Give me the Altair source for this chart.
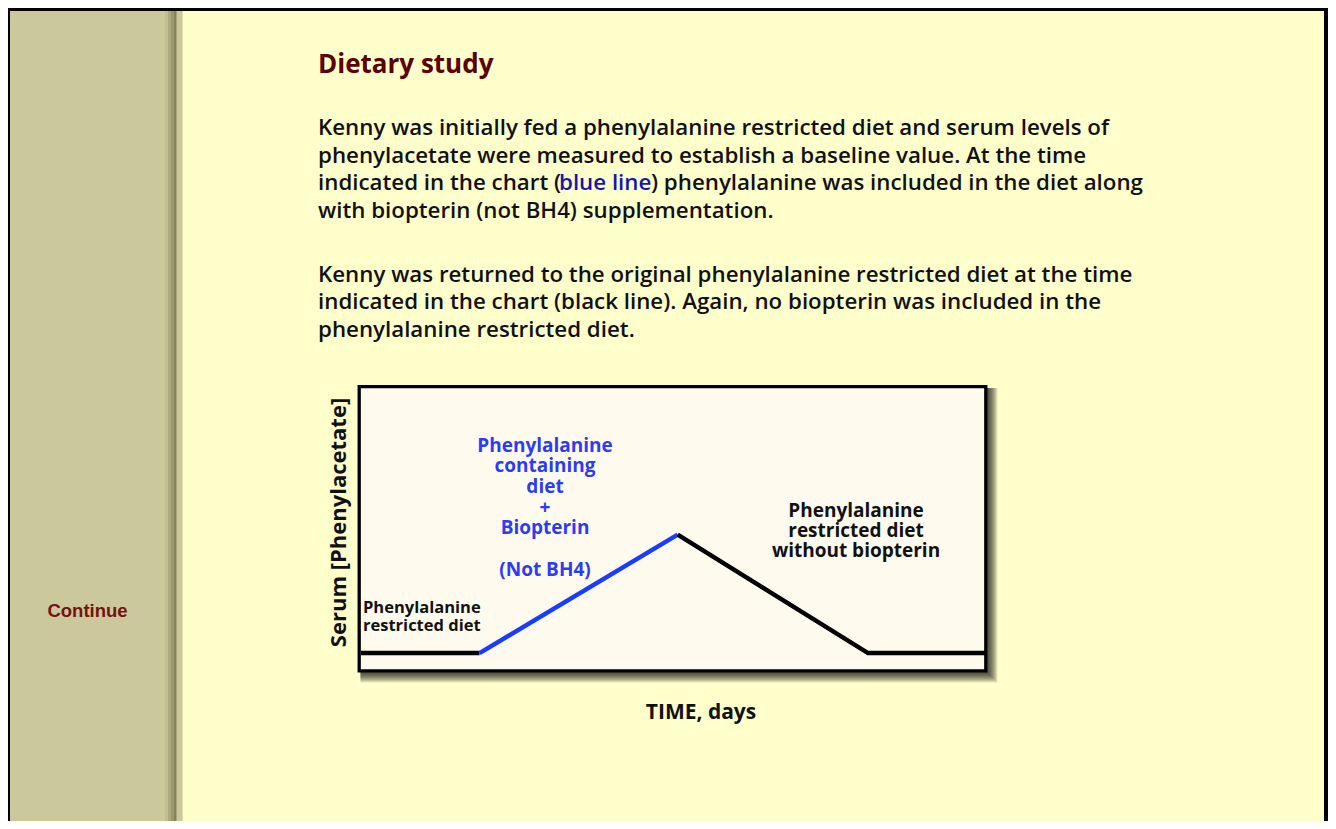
import altair as alt
import pandas as pd

# ---------------- data ----------------
days = [0, 7.6, 20.3, 32.5, 40]            # time, days
serum = [0.6, 0.6, 4.8, 0.6, 0.6]          # serum [phenylacetate], arbitrary units
segment_names = ["baseline", "baseline", "phe_diet", "phe_diet",
                 "restricted", "restricted", "restricted"]
segment_points = [0, 1, 1, 2, 2, 3, 4]
segment_colors = {"baseline": "#000000", "phe_diet": "#1a3cff", "restricted": "#000000"}

title_text = "Dietary study"
para1_top = [
    "Kenny was initially fed a phenylalanine restricted diet and serum levels of",
    "phenylacetate were measured to establish a baseline value. At the time",
]
para1_line3 = ["indicated in the chart (", "blue line",
               ") phenylalanine was included in the diet along"]
para1_last = "with biopterin (not BH4) supplementation."
para2_lines = [
    "Kenny was returned to the original phenylalanine restricted diet at the time",
    "indicated in the chart (black line). Again, no biopterin was included in the",
    "phenylalanine restricted diet.",
]
label_left = ["Phenylalanine", "restricted diet"]
label_blue = ["Phenylalanine", "containing", "diet", "+", "Biopterin"]
label_blue_note = "(Not BH4)"
label_right = ["Phenylalanine", "restricted diet", "without biopterin"]
y_title = "Serum [Phenylacetate]"
x_title = "TIME, days"
nav_text = "Continue"

rows = [
    {"day": days[i], "serum": serum[i], "segment": s, "order": k,
     "color": segment_colors[s]}
    for k, (s, i) in enumerate(zip(segment_names, segment_points))
]
df = pd.DataFrame(rows)

one = alt.Data(values=[{"k": 0}])
FONT = "Open Sans"
PW = 600  # paragraph weight


def rect(x1, x2, y1, y2, **kw):
    return alt.Chart(one).mark_rect(**kw).encode(
        x=alt.value(x1), x2=alt.value(x2), y=alt.value(y1), y2=alt.value(y2))


def txt(text, x, y, size, color="#111111", font=FONT, weight="bold",
        align="left", angle=0, line_height=None, baseline="alphabetic"):
    kw = dict(text=text, fontSize=size, color=color, font=font,
              fontWeight=weight, align=align, baseline=baseline, angle=angle)
    if line_height is not None:
        kw["lineHeight"] = line_height
    return alt.Chart(one).mark_text(**kw).encode(x=alt.value(x), y=alt.value(y))


layers = []
# sidebar
layers.append(rect(0, 175, 0, 813, color="#CBC99C"))
for (a, b, c) in [(157, 160, "#C0BF92"), (160, 163, "#ACAB80"),
                  (163, 166, "#99986D"), (166, 168.5, "#83825A"),
                  (174, 175, "#DEDDAE")]:
    layers.append(rect(a, b, 0, 813, color=c))

# chart box shadow
X0, X1, Y0, Y1 = 349.5, 979.5, 377, 664.5
for i in range(1, 11):
    layers.append(rect(X0 + 3, X1 + i, Y0 + 3, Y1 + i, color="#000000", opacity=0.1))
# chart box
layers.append(rect(351.2, 977.8, 378.7, 662.8, fill="#FEFBEE",
                   stroke="#000000", strokeWidth=3.3))

# data line
line = alt.Chart(df).mark_line(strokeWidth=4.5, strokeCap="butt").encode(
    x=alt.X("day:Q", axis=None,
            scale=alt.Scale(domain=[0, 40], range=[353, 977], nice=False, zero=False)),
    y=alt.Y("serum:Q", axis=None,
            scale=alt.Scale(domain=[0, 10], range=[662, 380], nice=False, zero=False)),
    detail="segment:N",
    color=alt.Color("color:N", scale=None),
    order="order:Q",
)
layers.append(line)

# chart texts
layers.append(txt(label_left, 355, 605, 16.5, line_height=17.5))
layers.append(txt(label_blue, 537, 443.7, 19, color="#2c3cf5", align="center",
                  line_height=20.7))
layers.append(txt(label_blue_note, 537, 567.9, 19, color="#2c3cf5", align="center"))
layers.append(txt(label_right, 848, 508.7, 19, align="center", line_height=20.3))
layers.append(txt(y_title, 338, 514.5, 22, align="center", angle=270))
layers.append(txt(x_title, 693, 711, 21, align="center"))

# page texts
layers.append(txt(title_text, 310, 65, 26, color="#5c0000"))
layers.append(txt(para1_top, 310, 127, 22.3, weight=PW, line_height=27.5))
layers.append(txt(para1_line3[0], 310, 182, 22.3, weight=PW))
layers.append(txt(para1_line3[1], 551, 182, 22.3, weight=PW, color="#1515b0"))
layers.append(txt(para1_line3[2], 643, 182, 22.3, weight=PW))
layers.append(txt(para1_last, 310, 209.5, 22.3, weight=PW))
layers.append(txt(para2_lines, 310, 273.5, 22.3, weight=PW, line_height=27.5))
layers.append(txt(nav_text, 79.5, 608.7, 18.5, color="#771111",
                  font="Liberation Sans", align="center"))

# outer page border
layers.append(rect(0, 2, 0, 813, color="#000000"))
layers.append(rect(0, 1320, 0, 3, color="#000000"))
layers.append(rect(1316, 1320, 0, 813, color="#000000"))

chart = alt.layer(*layers).properties(
    width=1320, height=813, background="#FFFFCC", padding=0,
    autosize=alt.AutoSizeParams(type="none"),
).configure_view(strokeWidth=0)

chart.save("out.html", embed_options={"renderer": "svg", "actions": False})
